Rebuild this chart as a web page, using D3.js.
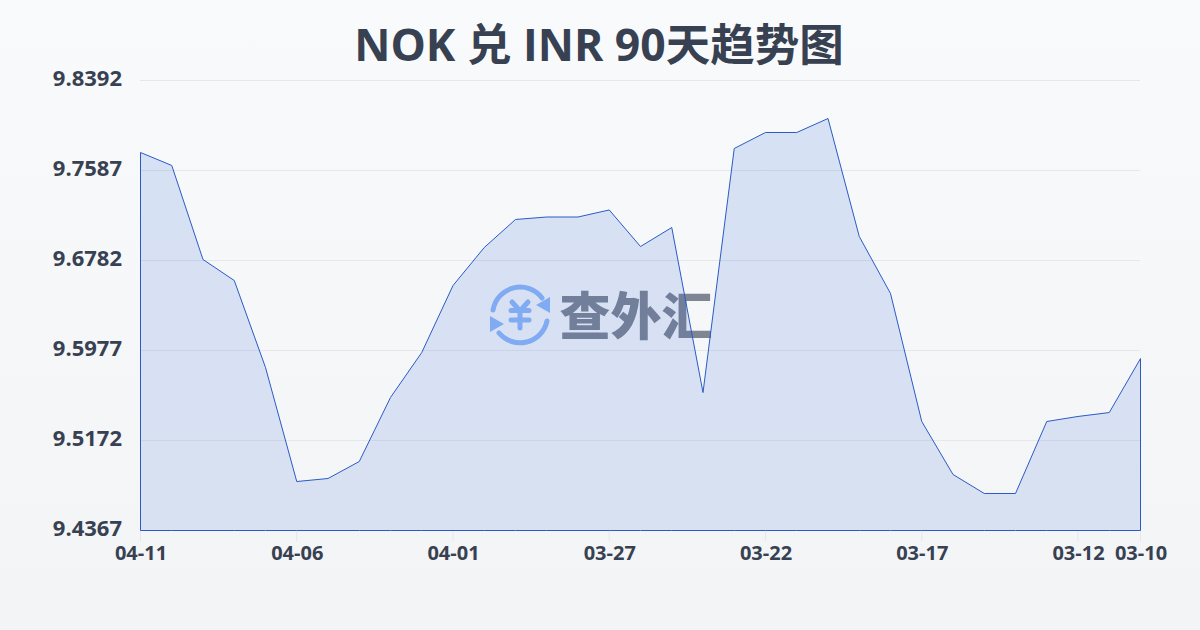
<!DOCTYPE html>
<html><head><meta charset="utf-8">
<script src="https://cdn.jsdelivr.net/npm/d3@7/dist/d3.min.js"></script>
<style>html,body{margin:0;padding:0;width:1200px;height:630px;overflow:hidden}svg{display:block}
text{font-family:"Open Sans","Noto Sans CJK SC",sans-serif}</style></head>
<body><svg id="c" width="1200" height="630"></svg>
<script>
const titleText = "NOK 兑 INR 90天趋势图";
const watermarkText = "查外汇";
const dates = ["04-11","04-10","04-09","04-08","04-07","04-06","04-05","04-04","04-03","04-02","04-01","03-31","03-30","03-29","03-28","03-27","03-26","03-25","03-24","03-23","03-22","03-21","03-20","03-19","03-18","03-17","03-16","03-15","03-14","03-13","03-12","03-11","03-10"];
const values = [9.7748,9.7632,9.6791,9.6603,9.5825,9.4805,9.4832,9.4984,9.5557,9.5959,9.6558,9.6898,9.7149,9.7171,9.7171,9.7234,9.6907,9.7077,9.5601,9.7784,9.7927,9.7927,9.8052,9.6997,9.6487,9.5342,9.4868,9.4698,9.4698,9.5342,9.5387,9.5422,9.5905];
const yTicks = [9.4367,9.5172,9.5977,9.6782,9.7587,9.8392];
const xTickLabels = ["04-11","04-06","04-01","03-27","03-22","03-17","03-12","03-10"];

const svg = d3.select("#c");
const defs = svg.append("defs");
const bg = defs.append("linearGradient").attr("id","bg").attr("x1",0).attr("y1",0).attr("x2",0).attr("y2",1);
bg.append("stop").attr("offset",0).attr("stop-color","#f8fafc");
bg.append("stop").attr("offset",1).attr("stop-color","#f3f4f6");
const ag = defs.append("linearGradient").attr("id","ag").attr("gradientUnits","userSpaceOnUse").attr("x1",0).attr("y1",118).attr("x2",0).attr("y2",530);
ag.append("stop").attr("offset",0).attr("stop-color","#2059d0").attr("stop-opacity",0.15);
ag.append("stop").attr("offset",1).attr("stop-color","#2059d0").attr("stop-opacity",0.13);
svg.append("rect").attr("width",1200).attr("height",630).attr("fill","url(#bg)");

const x = d3.scalePoint().domain(dates).range([140.5,1140.5]);
const y = d3.scaleLinear().domain([9.4367,9.8392]).range([530.5,80.5]);

svg.append("text").attr("x",599).attr("y",60.5).attr("text-anchor","middle")
  .attr("font-size",44.5).attr("font-weight",700).attr("fill","#374151").text(titleText);

svg.append("g").selectAll("line").data(yTicks.slice(1)).join("line")
  .attr("x1",140).attr("x2",1140).attr("y1",d=>y(d)).attr("y2",d=>y(d))
  .attr("stroke","#e5e7eb").attr("stroke-width",1);

svg.append("g").selectAll("text").data(yTicks).join("text")
  .attr("x",122).attr("y",d=>y(d)+5).attr("text-anchor","end")
  .attr("font-size",22).attr("font-weight",700).attr("fill","#374151").text(d=>d.toFixed(4));

svg.append("g").selectAll("line").data(xTickLabels).join("line")
  .attr("x1",d=>x(d)).attr("x2",d=>x(d)).attr("y1",530).attr("y2",541)
  .attr("stroke","#e5e7eb");
svg.append("g").selectAll("text").data(xTickLabels).join("text")
  .attr("x",d=>x(d)+0.5).attr("y",560).attr("text-anchor","middle")
  .attr("font-size",20).attr("font-weight",700).attr("fill","#374151").text(d=>d);

// watermark
const wm = svg.append("g");
const blue = "#90b8f8";
const strokeStyle = s => s.attr("fill","none").attr("stroke",blue).attr("stroke-width",5).attr("stroke-linecap","round").attr("stroke-linejoin","round");
wm.append("path").attr("d","M493,310A27.5,27.5 0 0 1 542,298").call(strokeStyle);
wm.append("path").attr("d","M547,321A27.5,27.5 0 0 1 499,333").call(strokeStyle);
wm.append("path").attr("d","M550,297L550,313L536,305Z").attr("fill",blue);
wm.append("path").attr("d","M490,316L490,332L504,324Z").attr("fill",blue);
wm.append("path").attr("d","M512,302L520,311L528,302M511,310.5H529M511,320H529M520,311V328").call(strokeStyle);
wm.append("text").attr("x",636).attr("y",335).attr("text-anchor","middle")
  .attr("font-size",51).attr("font-weight",900).attr("fill","#7f8592")
  .style("font-family",'"Noto Sans CJK SC"').text(watermarkText);

const area = d3.area().x(d=>x(d.date)).y0(530.5).y1(d=>y(d.value));
const pts = dates.map((date,i)=>({date,value:values[i]}));
svg.append("path").datum(pts).attr("d",area(pts)+"Z")
  .attr("fill","url(#ag)").attr("stroke","#2a5bc4").attr("stroke-width",1);
</script></body></html>
